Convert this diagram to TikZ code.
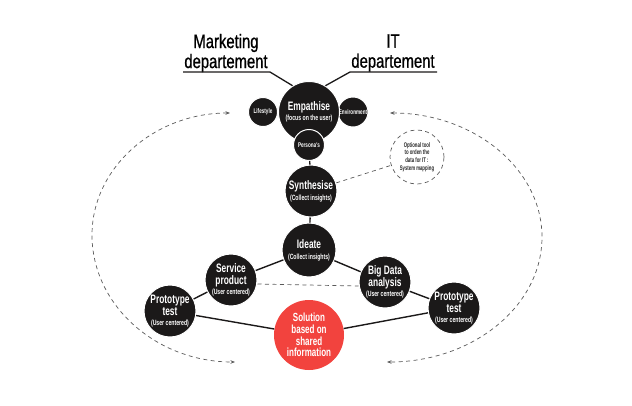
\documentclass[tikz,border=0pt]{standalone}
\usepackage{fontspec}
\usetikzlibrary{arrows.meta}
\setmainfont{Liberation Sans}
% condensed faces for headings and circle labels
\newfontfamily\titlefont[FakeStretch=0.76,FakeBold=0.8]{Liberation Sans}
\newfontfamily\condfont[FakeStretch=0.68]{Liberation Sans}
\newfontfamily\notefont[FakeStretch=0.64]{Liberation Sans}
\newcommand\bigtxt{\condfont\bfseries\fontsize{12.3}{12}\selectfont}
\newcommand\subtxt{\condfont\bfseries\fontsize{7.6}{11}\selectfont}
\newcommand\tinytxt{\condfont\bfseries\fontsize{6.8}{8}\selectfont}
\definecolor{inkdark}{HTML}{1B1919}
\definecolor{solred}{HTML}{F2433E}
\definecolor{dashgrey}{HTML}{5A5A5A}
\tikzset{
  bubble/.style={circle, fill=inkdark, draw=white, line width=1pt, inner sep=0pt,
    text=white, align=center, minimum size=#1},
  bubble/.default=52pt,
  solution/.style={circle, fill=solred, inner sep=0pt, text=white, align=center,
    minimum size=70pt, font=\condfont\bfseries\fontsize{11.8}{11.7}\selectfont},
  optional/.style={circle, draw=dashgrey, line width=0.7pt, dash pattern=on 4pt off 3.5pt,
    inner sep=0pt, minimum size=54pt, align=center, text=black!85,
    font=\notefont\bfseries\fontsize{6.7}{7.6}\selectfont},
  link/.style={draw=inkdark, line width=1.4pt},
  dashlink/.style={draw=dashgrey, line width=0.7pt, dash pattern=on 4pt off 3.5pt},
  loop/.style={dashlink, {Stealth[length=4.5pt,width=3.5pt]}-{Stealth[length=4.5pt,width=3.5pt]}},
  heading/.style={align=center, text=black, font=\titlefont\fontsize{19.5}{20}\selectfont, inner sep=0pt}
}
\begin{document}
\begin{tikzpicture}[x=1pt,y=-1pt]
\useasboundingbox (0,0) rectangle (632,405);

% department headings
\node[heading] (mkt) at (226,53) {Marketing\\departement};
\node[heading] (itd) at (393,53) {IT\\departement};

% empathise cluster
\node[bubble=29pt] (life) at (263,112) {\tinytxt Lifestyle};
\node[bubble=30pt] (env) at (353,112) {\tinytxt Environment};
\node[bubble=61pt] (emp) at (309,112) {\bigtxt Empathise\\[-2pt]\subtxt (focus on the user)};
\node[bubble=31pt] (pers) at (309,145) {\tinytxt Persona's};

% main chain
\node[bubble] (syn) at (311,191) {\bigtxt Synthesise\\[-1pt]\subtxt (Collect insights)};
\node[bubble=54pt] (ide) at (309,250) {\bigtxt Ideate\\[-1pt]\subtxt (Collect insights)};
\node[bubble] (serv) at (231,280) {\bigtxt Service\\\bigtxt product\\[-2pt]\subtxt (User centered)};
\node[bubble] (bigd) at (385,282) {\bigtxt Big Data\\\bigtxt analysis\\[-2pt]\subtxt (User centered)};
\node[bubble] (protL) at (170,311) {\bigtxt Prototype\\\bigtxt test\\[-2pt]\subtxt (User centered)};
\node[bubble] (protR) at (454,308) {\bigtxt Prototype\\\bigtxt test\\[-2pt]\subtxt (User centered)};
\node[solution] (sol) at (309,335) {Solution\\based on\\shared\\information};

% optional mapping tool
\node[optional] (opt) at (417,157) {Optional tool\\to orden the\\data for IT :\\System mapping};

% underlines of the headings and their links to Empathise
\coordinate (mkA) at (183,72);
\coordinate (mkB) at (270,72);
\coordinate (itA) at (437,72);
\coordinate (itB) at (350,72);
\draw[link, line width=1.3pt] (mkA) -- (mkB) -- (emp.122);
\draw[link, line width=1.3pt] (itA) -- (itB) -- (emp.58);

% solid connectors
\draw[link] (pers) -- (syn);
\draw[link] (syn) -- (ide);
\draw[link] (ide) -- (serv);
\draw[link] (ide) -- (bigd);
\draw[link] (serv) -- (protL);
\draw[link] (bigd) -- (protR);
\draw[link] (protL) -- (sol);
\draw[link] (sol) -- (protR);

% dashed connectors
\draw[dashlink] ([yshift=-4pt]serv.east) -- ([yshift=-4pt]bigd.west);
\draw[dashlink] (syn) -- (opt);

% feedback loops
\coordinate (lTop) at (230,113);
\coordinate (lBot) at (235,362);
\coordinate (rTop) at (390,113);
\coordinate (rBot) at (387,362);
\draw[loop] (lTop) .. controls (154,113) and (92,168) .. (92,235)
               .. controls (92,305) and (156,362) .. (lBot);
\draw[loop] (rTop) .. controls (474,113) and (542,169) .. (542,237)
               .. controls (542,306) and (473,362) .. (rBot);
\end{tikzpicture}
\end{document}
